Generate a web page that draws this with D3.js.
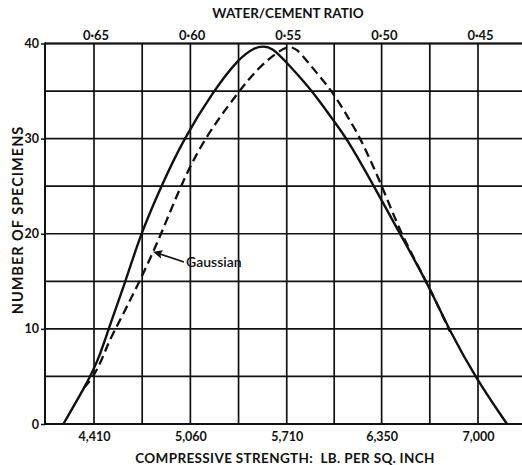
<!DOCTYPE html>
<html>
<head>
<meta charset="utf-8">
<script src="https://cdn.jsdelivr.net/npm/d3@7"></script>
<style>
  html, body { margin: 0; padding: 0; background: #fff; }
  svg { display: block; }
  text { font-family: Lato, "Open Sans", sans-serif; font-weight: 700; fill: #111; }
</style>
</head>
<body>
<svg id="chart" width="522" height="465"></svg>
<script>
// ---- data ----
const strengthTicks = [4410, 5060, 5710, 6350, 7000];
const strengthGrid = [4410, 4735, 5060, 5385, 5710, 6030, 6350, 6675, 7000];
const ratioTicks = [0.65, 0.60, 0.55, 0.50, 0.45];
const ratioLabels = ["0·65", "0·60", "0·55", "0·50", "0·45"];
const countTicks = [0, 10, 20, 30, 40];
const countGrid = [5, 10, 15, 20, 25, 30, 35, 40];

// observed distribution (solid)
const observedX = [4203, 4349, 4439, 4506, 4621, 4723, 4860, 5012, 5211, 5383, 5496, 5550, 5609, 5716, 5889, 6024, 6125, 6305, 6481, 6663, 6811, 6991, 7169, 7196];
const observedY = [0, 3.9, 6.7, 9.9, 14.9, 19.9, 24.9, 29.9, 34.9, 38.4, 39.6, 39.7, 39.6, 37.9, 34.9, 31.9, 29.8, 24.8, 19.8, 14.7, 9.7, 4.7, 0.6, 0];

// Gaussian (dashed)
const gaussX = [4343, 4403, 4462, 4506, 4552, 4716, 4862, 4990, 5147, 5383, 5516, 5631, 5719, 5780, 5845, 5934, 6024, 6125, 6216, 6359, 6485, 6663, 6811];
const gaussY = [3.8, 4.9, 6.7, 8.5, 9.9, 14.9, 19.9, 24.9, 29.9, 34.9, 37.4, 38.9, 39.8, 39.4, 38.2, 36.5, 34.8, 32.2, 29.8, 24.8, 19.8, 14.7, 9.7];

// ---- layout ----
const svg = d3.select("#chart");
const mLeft = 45, mTop = 43.5, mBottom = 424, mRight = 526;

const x = d3.scaleLinear().domain([4410, 7000]).range([94, 478]);
const y = d3.scaleLinear().domain([0, 40]).range([mBottom, mTop]);
// water/cement ratio on top maps linearly onto the same positions
const xr = d3.scaleLinear().domain([0.65, 0.45]).range([x(4410) + 1.5, x(7000) + 2]);

const g = svg.append("g");

// grid lines
g.selectAll("line.vg").data(strengthGrid).enter().append("line")
  .attr("x1", d => x(d)).attr("x2", d => x(d))
  .attr("y1", mTop).attr("y2", mBottom)
  .attr("stroke", "#111").attr("stroke-width", 1.7);
g.selectAll("line.hg").data(countGrid).enter().append("line")
  .attr("x1", mLeft).attr("x2", mRight)
  .attr("y1", d => y(d)).attr("y2", d => y(d))
  .attr("stroke", "#111").attr("stroke-width", 1.7);

// frame: left + bottom + top
g.append("line").attr("x1", mLeft).attr("x2", mLeft).attr("y1", mTop - 1).attr("y2", mBottom + 1)
  .attr("stroke", "#111").attr("stroke-width", 2);
g.append("line").attr("x1", mLeft).attr("x2", mRight).attr("y1", mBottom).attr("y2", mBottom)
  .attr("stroke", "#111").attr("stroke-width", 2);
g.append("line").attr("x1", mLeft).attr("x2", mRight).attr("y1", mTop).attr("y2", mTop)
  .attr("stroke", "#111").attr("stroke-width", 2);

// left axis with ticks
const yAxis = d3.axisLeft(y).tickValues(countTicks).tickSize(4).tickPadding(2).tickFormat(d3.format("d"));
const ya = svg.append("g").attr("transform", `translate(${mLeft},0)`).call(yAxis);
ya.select(".domain").remove();
ya.selectAll(".tick line").attr("stroke", "#111").attr("stroke-width", 1.5);
ya.selectAll(".tick text").style("font-size", "12.5px").style("font-family", "Lato, sans-serif").style("font-weight", 700).attr("fill", "#111");

// bottom axis labels
const xAxis = d3.axisBottom(x).tickValues(strengthTicks).tickSize(0).tickPadding(8).tickFormat(d3.format(",d"));
const xa = svg.append("g").attr("transform", `translate(0,${mBottom})`).call(xAxis);
xa.select(".domain").remove();
xa.selectAll(".tick text").style("font-size", "12.5px").style("font-family", "Lato, sans-serif").style("font-weight", 700).attr("fill", "#111");

// top axis labels
const xTop = d3.axisTop(xr).tickValues(ratioTicks).tickSize(0).tickPadding(4).tickFormat((d, i) => ratioLabels[i]);
const xt = svg.append("g").attr("transform", `translate(0,${mTop})`).call(xTop);
xt.select(".domain").remove();
xt.selectAll(".tick text").style("font-size", "13px").style("font-family", "Lato, sans-serif").style("font-weight", 700).attr("fill", "#111");

// titles
svg.append("text").attr("x", 288).attr("y", 18).attr("text-anchor", "middle")
  .style("font-size", "13.5px").text("WATER/CEMENT RATIO");
svg.append("text").attr("x", 285).attr("y", 463).attr("text-anchor", "middle")
  .style("font-size", "13.5px").style("letter-spacing", "0.35px").attr("xml:space", "preserve")
  .text("COMPRESSIVE STRENGTH:  LB. PER SQ. INCH");
svg.append("text").attr("transform", "translate(23,220) rotate(-90)").attr("text-anchor", "middle")
  .style("font-size", "14.5px").style("letter-spacing", "1px").text("NUMBER OF SPECIMENS");

// curves
const line = d3.line().x(d => x(d[0])).y(d => y(d[1])).curve(d3.curveBasis);
const obs = observedX.map((v, i) => [v, observedY[i]]);
const gau = gaussX.map((v, i) => [v, gaussY[i]]);

g.append("path").datum(gau).attr("d", line)
  .attr("fill", "none").attr("stroke", "#111").attr("stroke-width", 2.3)
  .attr("stroke-dasharray", "9,5");
g.append("path").datum(obs).attr("d", line)
  .attr("fill", "none").attr("stroke", "#111").attr("stroke-width", 2.4);

// annotation
const ax0 = x(4808), ay0 = y(18.1);
const tx = 186, ty = 262;
svg.append("line").attr("x1", tx - 2).attr("y1", ty).attr("x2", ax0 + 4).attr("y2", ay0 + 1.2)
  .attr("stroke", "#111").attr("stroke-width", 1.7);
svg.append("path")
  .attr("d", `M${ax0},${ay0} l10,-1.5 l-2.5,3.8 l0.5,4.5 z`)
  .attr("fill", "#111");
svg.append("text").attr("x", tx).attr("y", ty + 5).style("font-size", "14px").style("font-weight", 600)
  .text("Gaussian");
</script>
</body>
</html>
